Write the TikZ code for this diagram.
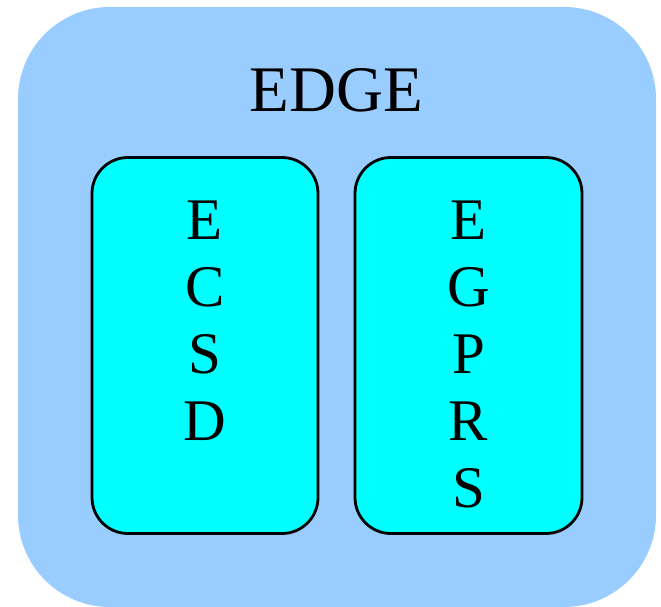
\documentclass[tikz,border=0pt]{standalone}
\usepackage{fontspec}
\setmainfont{Liberation Serif}
\definecolor{outerblue}{HTML}{99CCFF}
\definecolor{innercyan}{HTML}{00FFFF}
\tikzset{
  outerbox/.style={fill=outerblue, draw=none, rounded corners=92pt, inner sep=0pt},
  innerbox/.style={fill=innercyan, draw=black, line width=2.8pt, rounded corners=36pt, inner sep=0pt},
  letter/.style={anchor=base, inner sep=0pt, font=\fontsize{59}{67}\selectfont},
  title/.style={anchor=base, inner sep=0pt, font=\fontsize{65}{74}\selectfont}
}
\begin{document}
\begin{tikzpicture}[x=1pt,y=-1pt]
\useasboundingbox (0,0) rectangle (661,607);
\node[outerbox, minimum width=638pt, minimum height=600pt] (edge) at (337,307) {};
\node[title] (edgelabel) at (336.5,112) {EDGE};
\node[innerbox, minimum width=226pt, minimum height=376pt] (ecsd) at (205,345.5) {};
\node[innerbox, minimum width=227pt, minimum height=376pt] (egprs) at (468.5,345.5) {};
\node[letter] (l1) at (205,239) {E};
\node[letter] (l2) at (205,306) {C};
\node[letter] (l3) at (205,373) {S};
\node[letter] (l4) at (205,440) {D};
\node[letter] (r1) at (468.5,239) {E};
\node[letter] (r2) at (468.5,306) {G};
\node[letter] (r3) at (468.5,373) {P};
\node[letter] (r4) at (468.5,440) {R};
\node[letter] (r5) at (468.5,507) {S};
\end{tikzpicture}
\end{document}
